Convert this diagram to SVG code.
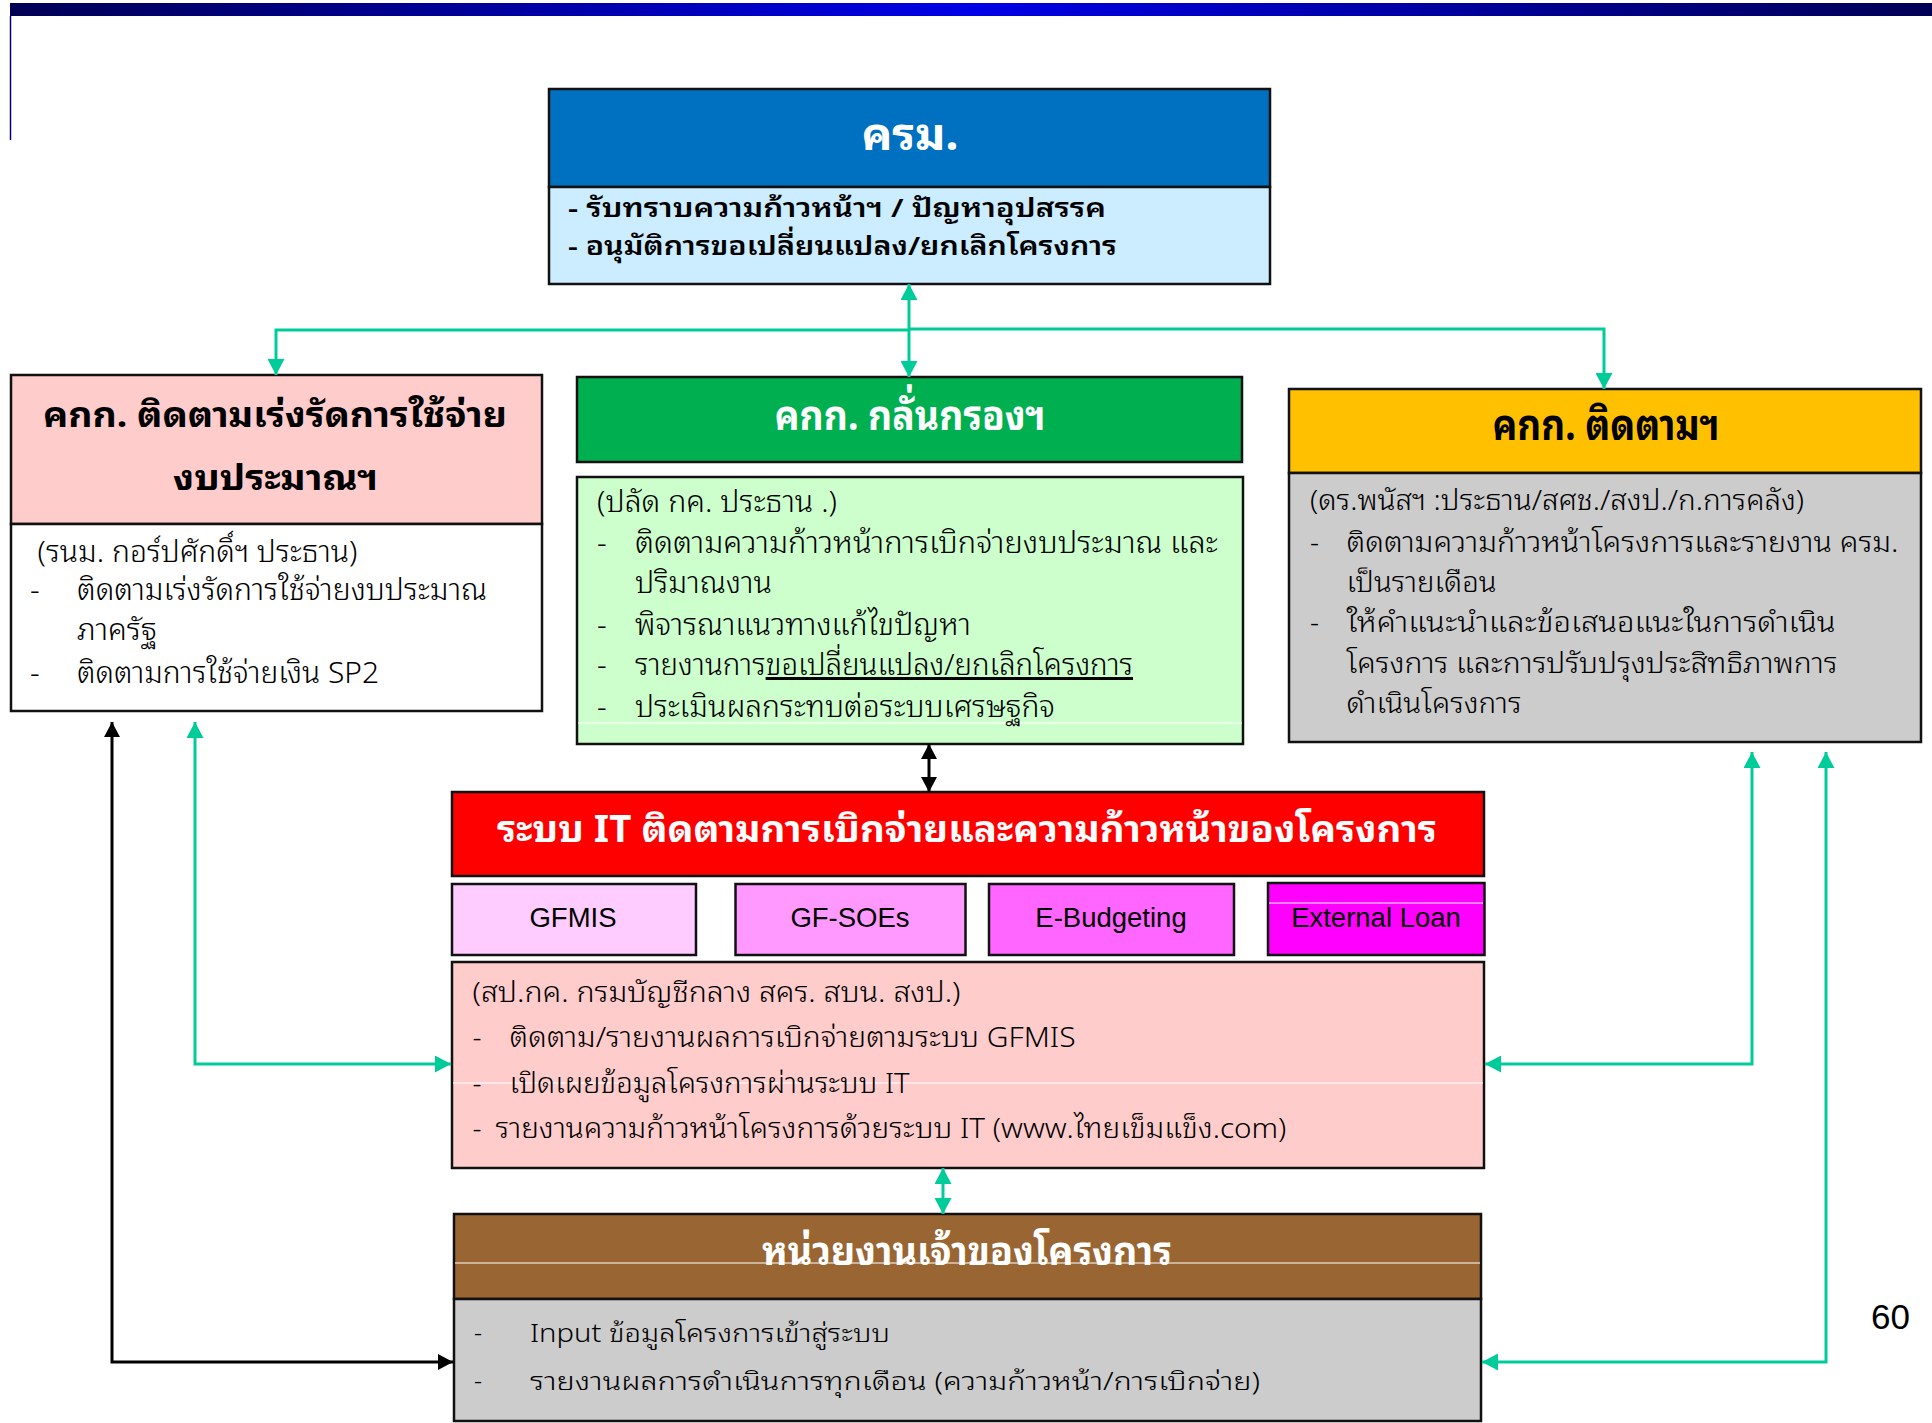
<svg xmlns="http://www.w3.org/2000/svg" width="1932" height="1423" viewBox="0 0 1932 1423">
<defs>
<linearGradient id="topbar" x1="0" y1="0" x2="1" y2="0">
<stop offset="0" stop-color="#000055"/>
<stop offset="0.5" stop-color="#0000E6"/>
<stop offset="1" stop-color="#000055"/>
</linearGradient>
<marker id="ag" markerUnits="userSpaceOnUse" markerWidth="17" markerHeight="17" viewBox="0 0 16 17" refX="16" refY="8.5" orient="auto-start-reverse">
<path d="M0,0 L16,8.5 L0,17 z" fill="#00CC99"/>
</marker>
<marker id="ab" markerUnits="userSpaceOnUse" markerWidth="16" markerHeight="16" viewBox="0 0 15 16" refX="15" refY="8" orient="auto-start-reverse">
<path d="M0,0 L15,8 L0,16 z" fill="#000"/>
</marker>
<style>
.box{stroke:#111;stroke-width:2.5}
.th{font-family:'Noto Sans Thai Looped','Noto Sans Thai','Noto Sans','Liberation Sans','DejaVu Sans',sans-serif}
.bd{font-weight:300}
.ttl{font-weight:bold;text-anchor:middle}
.w{fill:#fff}
.k{fill:#000}
.lat{font-family:'Liberation Sans',Arial,sans-serif;font-size:27.5px;text-anchor:middle;fill:#000}
.g{fill:none;stroke:#00CC99;stroke-width:3}
.b{fill:none;stroke:#000;stroke-width:3}
.art{stroke:#fff;stroke-width:1.2}
</style>
</defs>

<g id="header-bar">
<rect x="10" y="3" width="1922" height="13" fill="url(#topbar)"/>
<line x1="10.5" y1="16" x2="10.5" y2="140" stroke="#000080" stroke-width="1.5"/>
</g>

<g id="node-cabinet">
<rect class="box" x="549" y="89" width="721" height="98" fill="#0070C0"/>
<rect class="box" x="549" y="187" width="721" height="97" fill="#CCECFF"/>
<text class="th ttl w" x="910" y="150" font-size="46">ครม.</text>
<text class="th k" x="568" y="217" font-size="26" font-weight="600" textLength="538" lengthAdjust="spacingAndGlyphs">- รับทราบความก้าวหน้าฯ / ปัญหาอุปสรรค</text>
<text class="th k" x="568" y="255" font-size="26" font-weight="600" textLength="549" lengthAdjust="spacingAndGlyphs">- อนุมัติการขอเปลี่ยนแปลง/ยกเลิกโครงการ</text>
</g>

<g id="node-accelerate">
<rect class="box" x="11" y="375" width="531" height="149" fill="#FFCCCC"/>
<rect class="box" x="11" y="524" width="531" height="187" fill="#FFFFFF"/>
<text class="th k" x="43" y="427" font-size="34" font-weight="bold" textLength="464" lengthAdjust="spacingAndGlyphs">คกก. ติดตามเร่งรัดการใช้จ่าย</text>
<text class="th k" x="173" y="490" font-size="34" font-weight="bold" textLength="205" lengthAdjust="spacingAndGlyphs">งบประมาณฯ</text>
<text class="th bd k" x="37.5" y="562" font-size="30" textLength="320" lengthAdjust="spacingAndGlyphs">(รนม. กอร์ปศักดิ์ฯ ประธาน)</text>
<text class="th bd k" x="30" y="600" font-size="30">-</text>
<text class="th bd k" x="77" y="600" font-size="30" textLength="410" lengthAdjust="spacingAndGlyphs">ติดตามเร่งรัดการใช้จ่ายงบประมาณ</text>
<text class="th bd k" x="77" y="640" font-size="30" textLength="80" lengthAdjust="spacingAndGlyphs">ภาครัฐ</text>
<text class="th bd k" x="30" y="683" font-size="30">-</text>
<text class="th bd k" x="77" y="683" font-size="30" textLength="302" lengthAdjust="spacingAndGlyphs">ติดตามการใช้จ่ายเงิน SP2</text>
</g>

<g id="node-screening">
<rect class="box" x="577" y="377" width="665" height="85" fill="#00B050"/>
<text class="th ttl w" x="910" y="430" font-size="42" textLength="271" lengthAdjust="spacingAndGlyphs">คกก. กลั่นกรองฯ</text>
</g>

<g id="node-screening-detail">
<rect class="box" x="577" y="477" width="666" height="267" fill="#CCFFCC"/>
<line class="art" x1="578" y1="723" x2="1242" y2="723"/>
<text class="th bd k" x="597" y="512" font-size="30" textLength="240" lengthAdjust="spacingAndGlyphs">(ปลัด กค. ประธาน .)</text>
<text class="th bd k" x="597" y="553" font-size="30">-</text>
<text class="th bd k" x="635" y="553" font-size="30" textLength="583" lengthAdjust="spacingAndGlyphs">ติดตามความก้าวหน้าการเบิกจ่ายงบประมาณ และ</text>
<text class="th bd k" x="635" y="593" font-size="30" textLength="137" lengthAdjust="spacingAndGlyphs">ปริมาณงาน</text>
<text class="th bd k" x="597" y="635" font-size="30">-</text>
<text class="th bd k" x="635" y="635" font-size="30" textLength="336" lengthAdjust="spacingAndGlyphs">พิจารณาแนวทางแก้ไขปัญหา</text>
<text class="th bd k" x="597" y="675" font-size="30">-</text>
<text class="th bd k" x="635" y="675" font-size="30" textLength="498" lengthAdjust="spacingAndGlyphs">รายงานการ<tspan text-decoration="underline">ขอเปลี่ยนแปลง/ยกเลิกโครงการ</tspan></text>
<text class="th bd k" x="597" y="717" font-size="30">-</text>
<text class="th bd k" x="635" y="717" font-size="30" textLength="420" lengthAdjust="spacingAndGlyphs">ประเมินผลกระทบต่อระบบเศรษฐกิจ</text>
</g>

<g id="node-monitor">
<rect class="box" x="1289" y="389" width="632" height="84" fill="#FFC000"/>
<rect class="box" x="1289" y="473" width="632" height="269" fill="#CCCCCC"/>
<text class="th ttl k" x="1606" y="440" font-size="44" textLength="227" lengthAdjust="spacingAndGlyphs">คกก. ติดตามฯ</text>
<text class="th bd k" x="1310" y="510" font-size="28" textLength="494" lengthAdjust="spacingAndGlyphs">(ดร.พนัสฯ :ประธาน/สศช./สงป./ก.การคลัง)</text>
<text class="th bd k" x="1310" y="552" font-size="28">-</text>
<text class="th bd k" x="1346.5" y="552" font-size="28" textLength="552" lengthAdjust="spacingAndGlyphs">ติดตามความก้าวหน้าโครงการและรายงาน ครม.</text>
<text class="th bd k" x="1346.5" y="592" font-size="28" textLength="150" lengthAdjust="spacingAndGlyphs">เป็นรายเดือน</text>
<text class="th bd k" x="1310" y="632" font-size="28">-</text>
<text class="th bd k" x="1346.5" y="632" font-size="28" textLength="489" lengthAdjust="spacingAndGlyphs">ให้คำแนะนำและข้อเสนอแนะในการดำเนิน</text>
<text class="th bd k" x="1346.5" y="673" font-size="28" textLength="491" lengthAdjust="spacingAndGlyphs">โครงการ และการปรับปรุงประสิทธิภาพการ</text>
<text class="th bd k" x="1346.5" y="713" font-size="28" textLength="175" lengthAdjust="spacingAndGlyphs">ดำเนินโครงการ</text>
</g>

<g id="node-it-system">
<rect class="box" x="452" y="792" width="1032" height="84" fill="#FF0000"/>
<text class="th ttl w" x="967" y="842" font-size="37" textLength="940" lengthAdjust="spacingAndGlyphs">ระบบ IT ติดตามการเบิกจ่ายและความก้าวหน้าของโครงการ</text>
</g>

<g id="node-gfmis">
<rect class="box" x="452" y="884" width="244" height="71" fill="#FFCCFF"/>
<text class="lat" x="573" y="927">GFMIS</text>
</g>
<g id="node-gfsoes">
<rect class="box" x="735.5" y="884" width="230" height="71" fill="#FF99FF"/>
<text class="lat" x="850" y="927">GF-SOEs</text>
</g>
<g id="node-ebudgeting">
<rect class="box" x="989" y="884" width="245" height="71" fill="#FF66FF"/>
<text class="lat" x="1111" y="927">E-Budgeting</text>
</g>
<g id="node-external-loan">
<rect class="box" x="1268" y="883" width="216.5" height="72" fill="#FF00FF"/>
<line class="art" x1="1269" y1="903" x2="1483" y2="903"/>
<text class="lat" x="1376" y="927">External Loan</text>
</g>

<g id="node-it-detail">
<rect class="box" x="452" y="962" width="1032" height="206" fill="#FFCCCC"/>
<line class="art" x1="453" y1="1083" x2="1483" y2="1083"/>
<text class="th bd k" x="472.5" y="1002" font-size="28" textLength="488" lengthAdjust="spacingAndGlyphs">(สป.กค. กรมบัญชีกลาง สคร.  สบน. สงป.)</text>
<text class="th bd k" x="472.5" y="1047" font-size="28">-</text>
<text class="th bd k" x="509.6" y="1047" font-size="28" textLength="566" lengthAdjust="spacingAndGlyphs">ติดตาม/รายงานผลการเบิกจ่ายตามระบบ GFMIS</text>
<text class="th bd k" x="472.5" y="1093" font-size="28">-</text>
<text class="th bd k" x="509.6" y="1093" font-size="28" textLength="400" lengthAdjust="spacingAndGlyphs">เปิดเผยข้อมูลโครงการผ่านระบบ IT</text>
<text class="th bd k" x="472.5" y="1138" font-size="28">-</text>
<text class="th bd k" x="495.4" y="1138" font-size="28" textLength="791" lengthAdjust="spacingAndGlyphs">รายงานความก้าวหน้าโครงการด้วยระบบ IT (www.ไทยเข็มแข็ง.com)</text>
</g>

<g id="node-owner">
<rect class="box" x="454" y="1214" width="1027" height="85" fill="#996633"/>
<rect class="box" x="454" y="1299" width="1027" height="122" fill="#CCCCCC"/>
<text class="th ttl w" x="967" y="1265" font-size="40" textLength="410" lengthAdjust="spacingAndGlyphs">หน่วยงานเจ้าของโครงการ</text>
<line class="art" x1="455" y1="1263" x2="1480" y2="1263"/>
<text class="th bd k" x="474" y="1342" font-size="25">-</text>
<text class="th bd k" x="530" y="1342" font-size="25" textLength="360" lengthAdjust="spacingAndGlyphs">Input ข้อมูลโครงการเข้าสู่ระบบ</text>
<text class="th bd k" x="474" y="1390" font-size="25">-</text>
<text class="th bd k" x="530" y="1390" font-size="25" textLength="730" lengthAdjust="spacingAndGlyphs">รายงานผลการดำเนินการทุกเดือน  (ความก้าวหน้า/การเบิกจ่าย)</text>
</g>

<g id="connectors">
<path class="g" d="M909,284 V377" marker-start="url(#ag)" marker-end="url(#ag)"/>
<path class="g" d="M909,330 H276 V375" marker-end="url(#ag)"/>
<path class="g" d="M909,329 H1604 V389" marker-end="url(#ag)"/>
<path class="b" d="M929,744 V792" marker-start="url(#ab)" marker-end="url(#ab)"/>
<path class="g" d="M943,1168 V1214" marker-start="url(#ag)" marker-end="url(#ag)"/>
<path class="b" d="M112,722 V1362 H453" marker-start="url(#ab)" marker-end="url(#ab)"/>
<path class="g" d="M195,722 V1064 H451" marker-start="url(#ag)" marker-end="url(#ag)"/>
<path class="g" d="M1752,752 V1064 H1485" marker-start="url(#ag)" marker-end="url(#ag)"/>
<path class="g" d="M1826,752 V1362 H1482" marker-start="url(#ag)" marker-end="url(#ag)"/>
</g>

<text id="page-number" x="1871" y="1329" font-family="'Liberation Sans',Arial,sans-serif" font-size="35" fill="#000">60</text>
</svg>
